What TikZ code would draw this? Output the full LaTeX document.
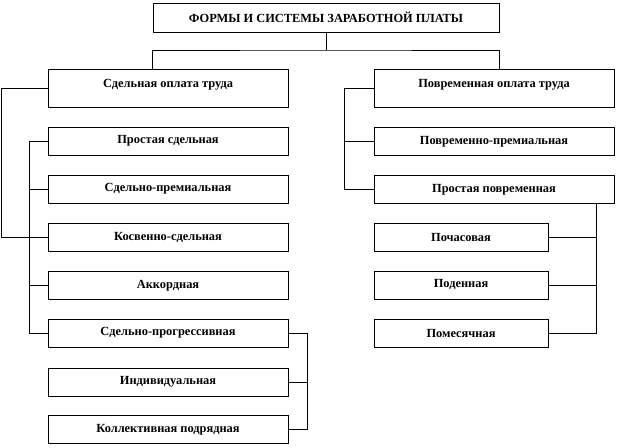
\documentclass[tikz,border=0pt]{standalone}
\usepackage{fontspec}
\setmainfont{Liberation Serif}
\begin{document}
\begin{tikzpicture}[x=1pt, y=-1pt, line width=0.8pt,
    box/.style = {draw, inner sep=0pt, minimum width=240pt, minimum height=28pt, font=\fontsize{12.4}{14}\selectfont\bfseries},
    headbox/.style = {box, minimum height=0pt, text height=18pt, text depth=20pt}]
    \useasboundingbox (0,0) rectangle (618,447);
    \node [box, minimum width=346pt, minimum height=29pt] (top) at (326,17.5) {ФОРМЫ И СИСТЕМЫ ЗАРАБОТНОЙ ПЛАТЫ};
    \node [headbox] (sdel) at (168,88) {Сдельная оплата труда};
    \node [headbox] (povr) at (494,88) {Повременная оплата труда};
    \node [box] (ps) at (168,141) {Простая сдельная};
    \node [box] (sp) at (168,189) {Сдельно-премиальная};
    \node [box] (ks) at (168,237.5) {Косвенно-сдельная};
    \node [box] (ak) at (168,285.5) {Аккордная};
    \node [box] (spr) at (168,333) {Сдельно-прогрессивная};
    \node [box] (ind) at (168,382) {Индивидуальная};
    \node [box] (kp) at (168,429.5) {Коллективная подрядная};
    \node [box] (pp) at (494,141.5) {Повременно-премиальная};
    \node [box] (prp) at (494,189.5) {Простая повременная};
    \node [box, minimum width=174pt] (pch) at (461,237.5) {Почасовая};
    \node [box, minimum width=174pt] (pod) at (461,285) {Поденная};
    \node [box, minimum width=174pt] (pom) at (461,333.5) {Помесячная};
    \coordinate (bar) at (326,50);
    \coordinate (lrail) at (1,0);
    \coordinate (prail) at (596,0);
    \draw (top) -- (bar);
    \draw (sdel.north -| top.west) |- (bar) -| (povr.north -| top.east);
    \draw (sdel.west) -| (lrail |- ks.west) -- (ks.west);
    \draw (ps.west) -- ++(-18,0) |- (spr.west);
    \foreach \n in {sp,ks,ak}
        \draw (\n.west) -- ++(-18,0);
    \draw (spr.east) -- ++(19,0) |- (kp.east);
    \draw (ind.east) -- ++(19,0);
    \draw (povr.west) -- ++(-29,0) |- (prp.west);
    \draw (pp.west) -- ++(-29,0);
    \draw (prp.south -| prail) |- (pom.east);
    \foreach \n in {pch,pod}
        \draw (\n.east) -- (\n.east -| prail);
\end{tikzpicture}
\end{document}
